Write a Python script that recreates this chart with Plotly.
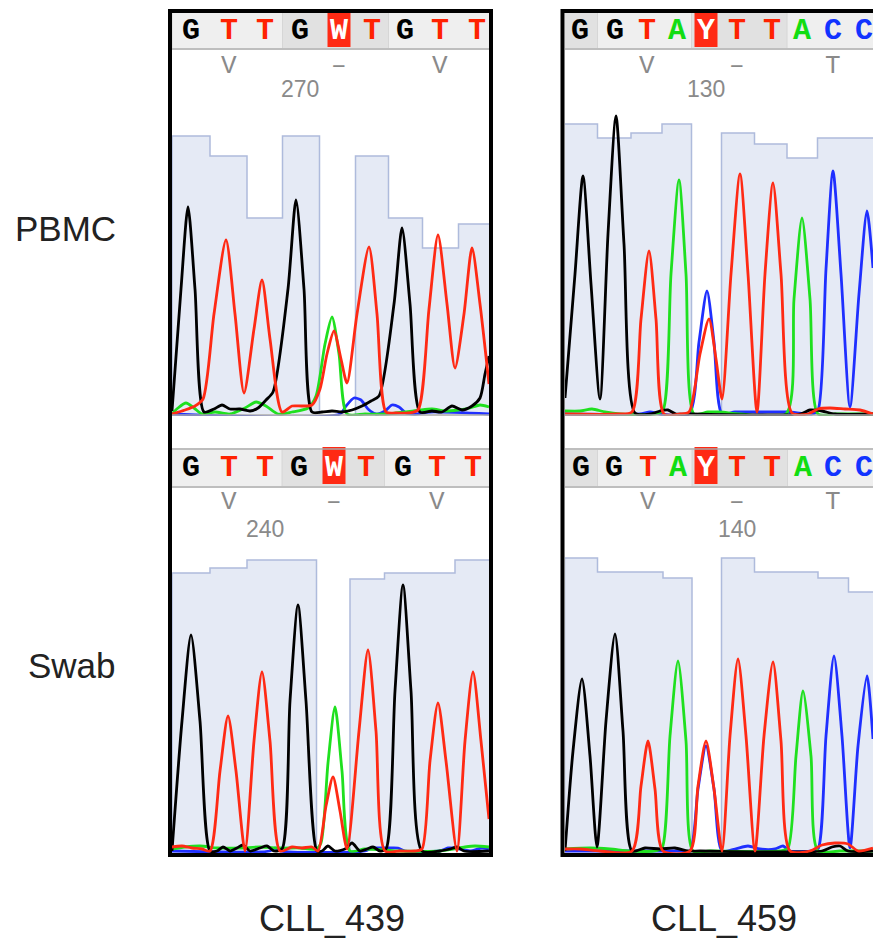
import plotly.graph_objects as go

W, H = 873, 944

# ---------------- data ----------------
# base calls and their trace positions (scan units)
tl_bases = list("GTTGWTGTT")
tl_pos = [191, 229, 265, 300, 339, 372, 405, 440, 477]
tl_qual = [278, 258, 196, 278, None, 258, 196, 166, 190]
tl_codons = [(0, 3), (3, 6), (6, 9)]
tl_codon_shade = [False, True, False]
tl_aa = ["V", "–", "V"]
tl_tick = ("270", 3)

tr_bases = list("GGTAYTTACC")
tr_pos = [580, 615, 647, 677, 706, 737, 772, 802, 833, 864]
tr_qual = [290, 276, 281, 290, None, 281, 270, 256, 276, 276]
tr_codons = [(0, 1), (1, 4), (4, 7), (7, 10)]
tr_codon_shade = [True, False, True, False]
tr_aa = [None, "V", "–", "T"]
tr_tick = ("130", 4)

bl_bases = list("GTTGWTGTT")
bl_pos = [191, 229, 265, 299, 334, 366, 403, 437, 473]
bl_qual = [278, 283, 291, 291, None, 272, 278, 278, 291]
bl_codons = [(0, 3), (3, 6), (6, 9)]
bl_codon_shade = [False, True, False]
bl_aa = ["V", "–", "V"]
bl_tick = ("240", 2)

br_bases = list("GGTAYTTACC")
br_pos = [581, 614, 648, 678, 706, 737, 772, 803, 833, 864]
br_qual = [293, 279, 279, 273, None, 293, 279, 279, 273, 259]
br_codons = [(0, 1), (1, 4), (4, 7), (7, 10)]
br_codon_shade = [True, False, True, False]
br_aa = [None, "V", "–", "T"]
br_tick = ("140", 5)

# chromatogram channels: (scan, signal)
tl_G = [(172,3),(181,125),(188,207),(195,125),(204,2),(214,5),(222,9),(230,5),(240,5),(250,3),(258,6),(266,14),
        (273,22),(288,125),(296,214),(304,125),(312,2),(322,2),(332,3),(342,2),(352,4),(362,8),(371,13),(379,18),
        (394,110),(402,186),(410,110),(420,2),(432,3),(442,2),(452,8),(462,4),(472,8),(480,16),(485,40),(489,58)]
tl_T = [(172,0),(185,4),(195,8),(203,15),(214,100),(226,174),(235,100),(244,21),(254,85),(262,134),(270,75),(282,2),
        (292,8),(302,8),(312,9),(320,25),(327,60),(334,83),(341,55),(347,31),(357,100),(369,167),(377,100),(386,2),
        (396,1),(408,1),(418,4),(429,105),(438,179),(447,110),(455,46),(464,100),(472,166),(480,110),(489,30)]
tl_A = [(172,0),(178,6),(186,11),(194,6),(202,0),(215,2),(230,0),(245,6),(256,12),(266,8),(278,0),(292,2),(308,6),
        (316,18),(325,70),(332,97),(339,60),(347,0),(365,0),(385,0),(405,2),(420,4),(432,5),(445,3),(458,4),(470,6),
        (480,9),(489,7)]
tl_C = [(172,0),(340,0),(346,8),(354,16),(361,14),(368,5),(376,0),(385,3),(392,9),(399,7),(406,1),(415,0),(430,2),(489,0)]

tr_G = [(565,16),(575,140),(583,238),(591,130),(600,15),(608,180),(616,298),(624,170),(635,1),(650,0),(660,3),(668,4),
        (676,0),(690,0),(800,0),(810,4),(822,3),(835,0),(873,0)]
tr_T = [(565,0),(617,0),(632,2),(641,95),(649,163),(656,95),(664,0),(680,0),(689,2),(700,60),(709,95),(716,55),(722,15),
        (731,140),(740,240),(748,140),(757,2),(765,140),(773,231),(781,140),(792,1),(808,0),(818,5),(830,6),(845,5),
        (860,4),(873,0)]
tr_A = [(565,3),(580,3),(592,5),(605,2),(620,0),(655,0),(663,4),(671,140),(679,234),(686,140),(694,0),(708,2),(720,2),
        (740,0),(786,0),(794,115),(802,196),(810,115),(818,0),(835,0),(873,0)]
tr_C = [(565,0),(640,0),(650,2),(660,0),(689,0),(699,72),(707,123),(714,72),(722,0),(735,2),(760,2),(788,2),(812,0),
        (818,4),(826,145),(833,243),(841,140),(850,7),(859,120),(867,203),(873,146)]

bl_G = [(172,0),(182,130),(191,216),(200,130),(210,0),(217,0),(223,4),(230,0),(237,3),(243,6),(250,0),(260,3),(267,5),
        (274,0),(282,2),(290,150),(298,246),(306,150),(317,0),(322,0),(328,5),(335,0),(345,2),(352,8),(360,0),(367,2),
        (373,4),(380,0),(386,2),(395,160),(403,266),(411,160),(422,0),(440,0),(450,2),(457,4),(464,0),(489,0)]
bl_T = [(172,4),(182,5),(192,3),(202,2),(210,0),(220,80),(228,135),(236,80),(245,0),(254,110),(262,179),(270,110),
        (280,0),(292,4),(302,3),(312,4),(318,0),(326,45),(333,74),(340,40),(347,2),(359,120),(368,201),(376,120),
        (385,0),(400,0),(415,0),(422,2),(430,90),(438,148),(446,90),(457,0),(465,110),(473,179),(481,110),(489,32)]
bl_A = [(172,2),(185,4),(200,5),(218,3),(240,3),(260,4),(280,3),(300,3),(316,2),(321,8),(328,88),(335,144),(342,80),
        (350,0),(365,2),(400,0),(440,0),(465,4),(475,5),(489,4)]
bl_C = [(172,0),(270,0),(275,3),(280,0),(365,0),(372,3),(385,3),(398,3),(405,0),(440,0),(448,3),(455,3),(470,0),
        (482,3),(489,2)]

br_G = [(565,0),(573,100),(582,172),(590,95),(597,4),(606,130),(615,217),(623,120),(632,0),(645,3),(660,2),(675,3),
        (688,0),(700,0),(822,0),(832,4),(840,5),(848,0),(873,0)]
br_T = [(565,2),(580,2),(600,0),(632,0),(641,65),(648,110),(655,62),(663,0),(690,0),(698,65),(706,110),(714,62),
        (722,0),(730,115),(738,192),(746,115),(755,0),(764,115),(773,189),(781,110),(790,0),(810,0),(822,6),(835,8),
        (848,7),(858,0),(873,3)]
br_A = [(565,2),(590,3),(610,2),(630,0),(655,0),(662,3),(670,115),(678,190),(686,110),(693,0),(710,0),(780,0),
        (788,3),(796,95),(803,160),(811,95),(818,0),(840,0),(873,0)]
br_C = [(565,0),(680,0),(690,0),(698,62),(706,105),(714,62),(722,0),(735,2),(748,5),(760,2),(775,2),(783,5),(790,0),
        (812,0),(818,2),(826,115),(834,195),(842,115),(850,3),(858,105),(867,175),(873,112)]

row_labels = ["PBMC", "Swab"]
col_labels = ["CLL_439", "CLL_459"]

# ---------------- styles ----------------
TRACE_COL = {"G": "#000000", "T": "#ff2a14", "A": "#1fe01f", "C": "#1f2fff"}
LETTER_COL = {"G": "#000000", "T": "#ff2200", "A": "#12dd12", "C": "#1133ff"}
Q_FILL = "#e5eaf5"
Q_LINE = "#aebbdc"
BAR_LIGHT = "#efefef"
BAR_DARK = "#e1e1e1"
RED_BOX = "#ff2a14"
GRAY_TXT = "#8a8a8a"


def py(p):
    return 1 - p / H


def px(p):
    return p / W


panels = [
    dict(n="", bases=tl_bases, pos=tl_pos, qual=tl_qual, codons=tl_codons, shade=tl_codon_shade, aa=tl_aa,
         tick=tl_tick, ch=dict(C=tl_C, A=tl_A, G=tl_G, T=tl_T), xd=(172, 489), xr=(172, 489), row=0),
    dict(n="2", bases=tr_bases, pos=tr_pos, qual=tr_qual, codons=tr_codons, shade=tr_codon_shade, aa=tr_aa,
         tick=tr_tick, ch=dict(C=tr_C, A=tr_A, G=tr_G, T=tr_T), xd=(565, 873), xr=(565, 873), row=0),
    dict(n="3", bases=bl_bases, pos=bl_pos, qual=bl_qual, codons=bl_codons, shade=bl_codon_shade, aa=bl_aa,
         tick=bl_tick, ch=dict(C=bl_C, A=bl_A, G=bl_G, T=bl_T), xd=(172, 489), xr=(172, 489), row=1),
    dict(n="4", bases=br_bases, pos=br_pos, qual=br_qual, codons=br_codons, shade=br_codon_shade, aa=br_aa,
         tick=br_tick, ch=dict(C=br_C, A=br_A, G=br_G, T=br_T), xd=(565, 873), xr=(565, 873), row=1),
]

# vertical geometry per row (pixel rows of layout)
ROW = [
    dict(dom=(416, 100), bar=(13, 48), letter=31, box=(13, 47), aa=66, num=89, base_line=415),
    dict(dom=(853, 537), bar=(450, 486), letter=468, box=(447, 484), aa=502, num=529, base_line=None),
]

fig = go.Figure()
shapes = []
annotations = []
layout_axes = {}


def edges_of(pos):
    e = [pos[0] - (pos[1] - pos[0]) / 2]
    e += [(a + b) / 2 for a, b in zip(pos[:-1], pos[1:])]
    e += [pos[-1] + (pos[-1] - pos[-2]) / 2]
    return e


for p in panels:
    n = p["n"]
    xa, ya = "x" + n, "y" + n
    g = ROW[p["row"]]
    layout_axes["xaxis" + n] = dict(domain=[px(p["xd"][0]), min(1.0, px(p["xd"][1]))], range=list(p["xr"]),
                                    visible=False, anchor=ya, fixedrange=True)
    layout_axes["yaxis" + n] = dict(domain=[py(g["dom"][0]), py(g["dom"][1])], range=[-2, 314],
                                    visible=False, anchor=xa, fixedrange=True)

    e = edges_of(p["pos"])
    # quality bars as step outlines
    segs, cur = [], []
    for i, q in enumerate(p["qual"]):
        if q is None:
            if cur:
                segs.append(cur)
            cur = []
        else:
            cur.append((e[i], e[i + 1], q))
    if cur:
        segs.append(cur)
    for s in segs:
        xs, ys = [s[0][0]], [0]
        for l, r, q in s:
            xs.append(l)
            ys.append(q)
        xs += [s[-1][1], s[-1][1]]
        ys += [s[-1][2], 0]
        fig.add_trace(go.Scatter(x=xs, y=ys, mode="lines", line=dict(shape="hv", color=Q_LINE, width=1.5),
                                 fill="toself", fillcolor=Q_FILL, xaxis=xa, yaxis=ya, hoverinfo="skip",
                                 showlegend=False))
    # chromatogram traces
    for base, pts in p["ch"].items():
        fig.add_trace(go.Scatter(x=[a for a, b in pts], y=[b for a, b in pts], mode="lines",
                                 line=dict(color=TRACE_COL[base], width=2.8, shape="spline", smoothing=0.7),
                                 xaxis=xa, yaxis=ya, hoverinfo="skip", showlegend=False))

    # header bar
    x0p, x1p = px(p["xd"][0]), (px(p["xd"][1]) if p["xd"][1] < 873 else 1.02)
    shapes.append(dict(type="rect", xref="paper", yref="paper", x0=x0p, x1=x1p, y0=py(g["bar"][0]),
                       y1=py(g["bar"][1]), fillcolor=BAR_LIGHT, line=dict(width=0), layer="below"))
    for (a, b), dark in zip(p["codons"], p["shade"]):
        if dark:
            shapes.append(dict(type="rect", xref=xa, yref="paper", x0=e[a], x1=e[b], y0=py(g["bar"][0]),
                               y1=py(g["bar"][1]), fillcolor=BAR_DARK, line=dict(width=0), layer="below"))
        shapes.append(dict(type="line", xref=xa, yref="paper", x0=e[a], x1=e[a], y0=py(g["bar"][0]),
                           y1=py(g["bar"][1]), line=dict(color="#d6d6d6", width=1), layer="below"))
    shapes.append(dict(type="line", xref="paper", yref="paper", x0=x0p, x1=x1p, y0=py(g["bar"][1] + 1),
                       y1=py(g["bar"][1] + 1), line=dict(color="#a8a8a8", width=1.5)))
    if p["row"] == 1:
        shapes.append(dict(type="line", xref="paper", yref="paper", x0=x0p, x1=x1p, y0=py(g["bar"][0] - 1),
                           y1=py(g["bar"][0] - 1), line=dict(color="#a8a8a8", width=1.5)))
    if g["base_line"]:
        shapes.append(dict(type="line", xref="paper", yref="paper", x0=x0p, x1=x1p, y0=py(g["base_line"]),
                           y1=py(g["base_line"]), line=dict(color="#a8a8a8", width=1.5)))

    # base letters
    for i, (b, xp) in enumerate(zip(p["bases"], p["pos"])):
        amb = b not in "GTAC"
        if amb:
            shapes.append(dict(type="rect", xref=xa, yref="paper", x0=xp - 11.5, x1=xp + 11.5,
                               y0=py(g["box"][0]), y1=py(g["box"][1]), fillcolor=RED_BOX, line=dict(width=0),
                               layer="below"))
        annotations.append(dict(x=xp, y=py(g["letter"]), xref=xa, yref="paper", text=b, showarrow=False,
                                xanchor="center", yanchor="middle",
                                font=dict(family="Liberation Mono", size=30, weight="bold",
                                          color="#ffffff" if amb else LETTER_COL[b])))
    # amino acids (middle base of each codon)
    for (a, b), aa in zip(p["codons"], p["aa"]):
        if aa is None:
            continue
        annotations.append(dict(x=p["pos"][a + 1], y=py(g["aa"]), xref=xa, yref="paper", text=aa,
                                showarrow=False, xanchor="center", yanchor="middle",
                                font=dict(family="Liberation Mono", size=26, color=GRAY_TXT)))
    lab, idx = p["tick"]
    annotations.append(dict(x=p["pos"][idx], y=py(g["num"]), xref=xa, yref="paper", text=lab, showarrow=False,
                            xanchor="center", yanchor="middle",
                            font=dict(family="Liberation Sans", size=23, color=GRAY_TXT)))

# outer frames
shapes.append(dict(type="rect", xref="paper", yref="paper", x0=px(170), x1=px(491), y0=py(11), y1=py(855),
                   line=dict(color="#000000", width=4), layer="above"))
shapes.append(dict(type="rect", xref="paper", yref="paper", x0=px(562.5), x1=1.05, y0=py(11), y1=py(855),
                   line=dict(color="#000000", width=4), layer="above"))

# row / column labels
for txt, (cx, cy) in zip(row_labels, [(65, 229), (72, 665)]):
    annotations.append(dict(x=px(cx), y=py(cy), xref="paper", yref="paper", text=txt, showarrow=False,
                            xanchor="center", yanchor="middle",
                            font=dict(family="Liberation Sans", size=35, color="#222222")))
for txt, (cx, cy) in zip(col_labels, [(332, 918), (724, 918)]):
    annotations.append(dict(x=px(cx), y=py(cy), xref="paper", yref="paper", text=txt, showarrow=False,
                            xanchor="center", yanchor="middle",
                            font=dict(family="Liberation Sans", size=36, color="#222222")))

fig.update_layout(width=W, height=H, margin=dict(l=0, r=0, t=0, b=0), paper_bgcolor="#ffffff",
                  plot_bgcolor="rgba(0,0,0,0)", showlegend=False, shapes=shapes, annotations=annotations,
                  hovermode=False, **layout_axes)

fig.write_html("out.html", config={"displayModeBar": False, "staticPlot": True},
               post_script="document.body.style.margin='0';document.body.style.overflow='hidden';")
